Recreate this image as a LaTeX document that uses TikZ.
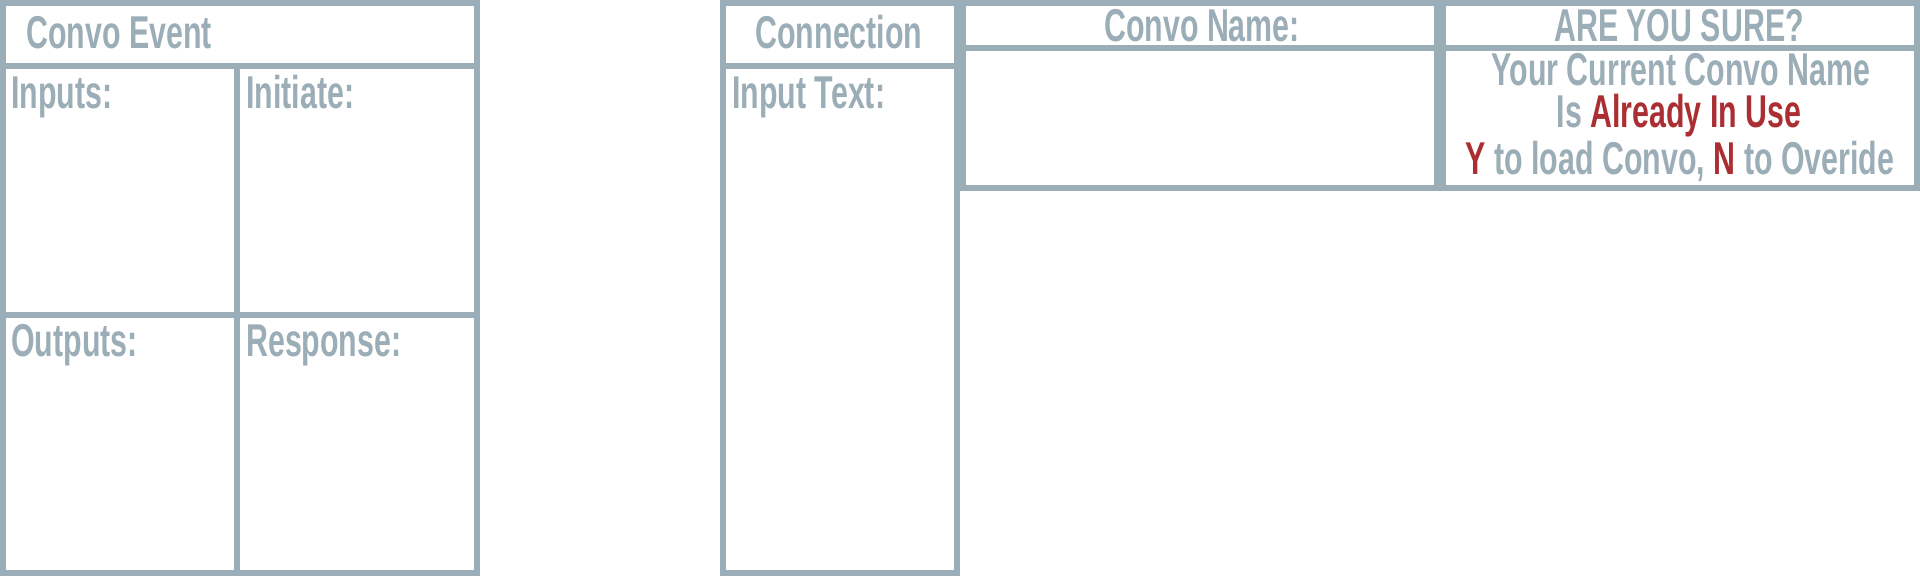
\documentclass[tikz,border=0pt]{standalone}
\usepackage{fontspec}
\newfontfamily\pixfont{Liberation Sans}[FakeStretch=0.66]
\usetikzlibrary{positioning}
\definecolor{framegray}{RGB}{155,173,182}
\definecolor{alertred}{RGB}{170,46,50}
\tikzset{font=\pixfont\bfseries\fontsize{46}{50}\selectfont}
\tikzset{every node/.append style={inner sep=0pt, text=framegray}}
\tikzset{frame/.style={draw=framegray, line width=6pt}}

\begin{document}
\begin{tikzpicture}[x=1pt, y=-1pt]
  \useasboundingbox (0,0) rectangle (1920,576);

  % convo event panel
  \draw[frame] (3,3) rectangle (477,573);
  \draw[frame] (3,66)--(477,66);
  \draw[frame] (237,66)--(237,573);
  \draw[frame] (3,315)--(477,315);
  \draw (26,48) node[anchor=base west] (evtitle) {Convo Event};
  \foreach \lbl/\px/\py [count=\i] in {Inputs:/11/108, Initiate:/246/108, Outputs:/11/356, Response:/246/356}{
               \draw (\px,\py) node[anchor=base west] (cell\i) {\lbl};
};

  % connection panel
  \draw[frame] (723,3) rectangle (957,573);
  \draw[frame] (723,66)--(957,66);
  \draw (839,48) node[anchor=base] (contitle) {Connection};
  \draw (732,108) node[anchor=base west] (inputtext) {Input Text:};

  % convo name and warning
  \draw[frame] (963,3) rectangle (1437,188);
  \draw[frame] (963,48)--(1437,48);
  \draw (1202,41) node[anchor=base] (nametitle) {Convo Name:};
  \draw[frame] (1443,3) rectangle (1917,188);
  \draw[frame] (1443,48)--(1917,48);
  \draw (1679,41) node[anchor=base] (suretitle) {ARE YOU SURE?};
  \draw (1681,85) node[anchor=base] (warn1) {Your Current Convo Name};
  \draw (1679,127) node[anchor=base] (warn2) {Is \textcolor{alertred}{Already In Use}};
  \draw (1680,174) node[anchor=base] (warn3) {\textcolor{alertred}{Y} to load Convo, \textcolor{alertred}{N} to Overide};
\end{tikzpicture}
\end{document}
